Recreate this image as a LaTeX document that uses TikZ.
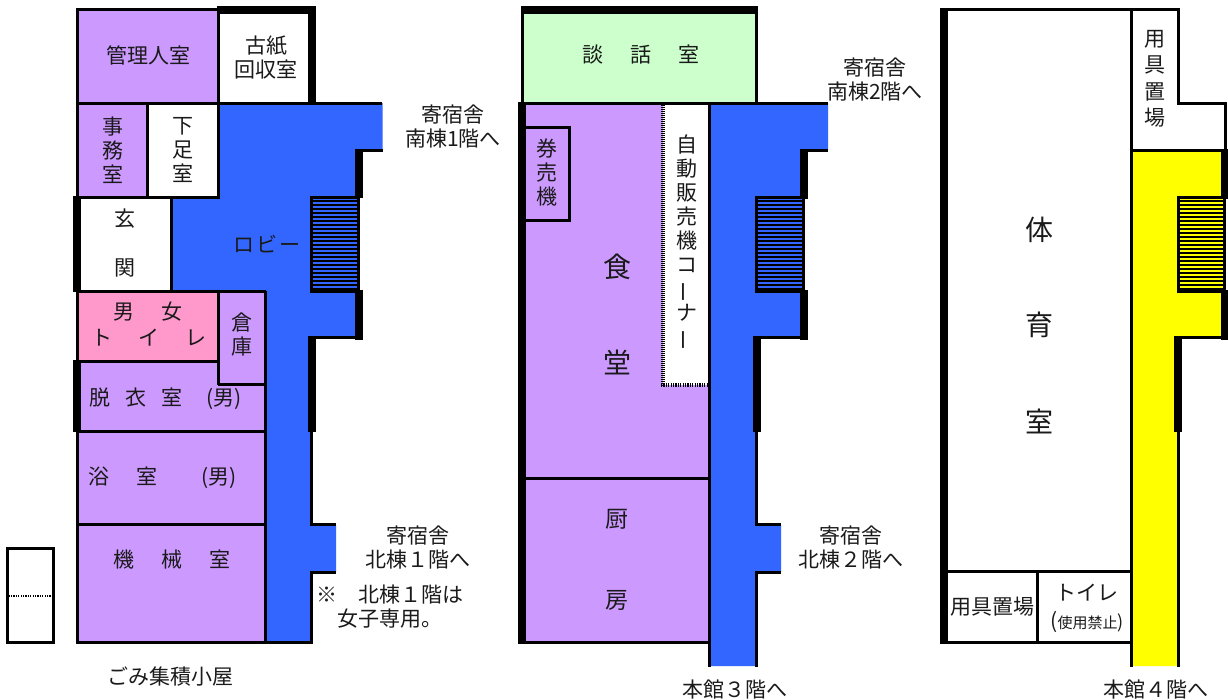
\documentclass[tikz,border=0pt]{standalone}
\usepackage{fontspec}
\newfontfamily\cjk{Noto Sans CJK JP}
\definecolor{lilac}{HTML}{CC99FF}
\definecolor{rosy}{HTML}{FF99CC}
\definecolor{mint}{HTML}{CCFFCC}
\definecolor{corr}{HTML}{3366FF}
\definecolor{yel}{HTML}{FFFF00}
\definecolor{ink}{HTML}{1A1A1A}
\newcommand{\gp}[1]{\hspace*{#1pt}}
\newcommand{\vbar}{\rotatebox[origin=c]{90}{ー}}
\tikzset{
  wallthin/.style={line width=3pt,line cap=butt,line join=miter,draw=black},
  wallthick/.style={line width=8pt,line cap=butt,line join=miter,draw=black},
  stairline/.style={line width=1.4pt,draw=black},
  lab/.style={inner sep=0pt,outer sep=0pt,align=center,text=ink,font=\cjk\fontsize{21}{24}\selectfont},
  big/.style={lab,font=\cjk\fontsize{28}{32}\selectfont},
  mid/.style={lab,font=\cjk\fontsize{23}{26}\selectfont},
  tall/.style={lab,font=\cjk\fontsize{21}{26.5}\selectfont}
}
\begin{document}
\begin{tikzpicture}[x=1pt,y=-1pt]
\useasboundingbox (0,0) rectangle (1228,699);
% ---------- building 1 fills
\fill[lilac] (77,9) rectangle (218,103);
\fill[lilac] (77,103) rectangle (147,197);
\fill[rosy] (77,291) rectangle (218,361);
\fill[lilac] (218,291) rectangle (265,384);
\fill[lilac] (77,361) rectangle (265,642);
\fill[corr] (218,103) -- (382.5,103) -- (382.5,150) -- (359,150) -- (359,337) -- (312,337) -- (312,525) -- (336,525) -- (336,572) -- (312,572) -- (312,642) -- (265,642) -- (265,291) -- (172,291) -- (172,197) -- (218,197) -- cycle;
% ---------- building 2 fills
\fill[mint] (522,10) rectangle (756,103);
\fill[lilac] (526,103) rectangle (709,642);
\fill[white] (663,104) rectangle (709,385);
\fill[corr] (709,103) -- (828,103) -- (828,150) -- (804,150) -- (804,337) -- (757,337) -- (757,525) -- (781,525) -- (781,572) -- (757,572) -- (757,666) -- (709,666) -- cycle;
% ---------- building 3 fills
\fill[yel] (1132,150) -- (1224,150) -- (1224,337) -- (1178,337) -- (1178,666) -- (1132,666) -- cycle;
% ---------- stairs
\foreach \sx/\sc in {311.5/corr,756.5/corr,1178/yel}{
  \fill[\sc] (\sx,197) rectangle +(47,95);
  \foreach \sy in {201,205,...,289}{
    \draw[stairline] (\sx,\sy) -- +(47,0);
  }
  \draw[wallthin] (\sx,197.5) rectangle +(46.5,94);
}
% ---------- building 1 walls
\draw[wallthin] (76,9.5) -- (218,9.5);
\draw[wallthick] (216.5,10) -- (316,10);
\draw[wallthick] (312,6) -- (312,103);
\draw[wallthin] (76,103.5) -- (382,103.5);
\draw[wallthin] (77.3,8) -- (77.3,644);
\draw[wallthin] (218.5,9) -- (218.5,199);
\draw[wallthin] (147,103) -- (147,198);
\draw[wallthin] (73,197.5) -- (220,197.5);
\draw[wallthick] (77,196) -- (77,292);
\draw[wallthick] (77,360) -- (77,432);
\draw[wallthin] (171.5,197) -- (171.5,292);
\draw[wallthin] (76,291.5) -- (266,291.5);
\draw[wallthin] (218.5,291) -- (218.5,385);
\draw[wallthin] (218,384.3) -- (266,384.3);
\draw[wallthin] (76,361.3) -- (218,361.3);
\draw[wallthin] (76,431) -- (266,431);
\draw[wallthin] (76,524.7) -- (266,524.7);
\draw[wallthin] (265.5,291) -- (265.5,644);
\draw[wallthin] (76,642.5) -- (313,642.5);
\draw[wallthin] (359,150.5) -- (382.5,150.5);
\draw[wallthick] (359,149) -- (359,198);
\draw[wallthick] (359,290) -- (359,340);
\draw[wallthin] (308,337.5) -- (359,337.5);
\draw[wallthick] (312,336) -- (312,432);
\draw[wallthin] (311.5,432) -- (311.5,526);
\draw[wallthin] (310,524.7) -- (336,524.7);
\draw[wallthin] (310,572.5) -- (336,572.5);
\draw[wallthin] (311.5,571) -- (311.5,644);
% garbage hut
\draw[wallthin] (7,548.5) rectangle (53.5,642);
\draw[line width=2pt,dash pattern=on 1.2pt off 1.2pt] (8.5,595.7) -- (52,595.7);
% ---------- building 2 walls
\draw[wallthick] (521,10) -- (758,10);
\draw[wallthin] (522.5,8) -- (522.5,103);
\draw[wallthin] (756.5,8) -- (756.5,103);
\draw[wallthin] (518,103.5) -- (828,103.5);
\draw[wallthick] (522,102) -- (522,644);
\draw[wallthin] (525,127) -- (569.3,127) -- (569.3,220) -- (525,220);
\draw[line width=4pt,dash pattern=on 1pt off 1pt] (663,105) -- (663,387);
\draw[line width=3.5pt,dash pattern=on 1.2pt off 1.2pt] (661,385) -- (708,385);
\draw[wallthin] (709.5,103) -- (709.5,666.7);
\draw[wallthin] (526,478.5) -- (709,478.5);
\draw[wallthin] (518,642.5) -- (710,642.5);
\draw[wallthin] (804,150.5) -- (828,150.5);
\draw[wallthick] (804,149) -- (804,199);
\draw[wallthick] (804,290) -- (804,340);
\draw[wallthin] (753,337.5) -- (804,337.5);
\draw[wallthick] (757,336) -- (757,432);
\draw[wallthin] (756.5,432) -- (756.5,526);
\draw[wallthin] (755,524.7) -- (781,524.7);
\draw[wallthin] (755,572.5) -- (781,572.5);
\draw[wallthin] (756.5,571) -- (756.5,666.7);
% ---------- building 3 walls
\draw[wallthick] (944,8) -- (944,644);
\draw[wallthin] (940,9.5) -- (1180,9.5);
\draw[wallthin] (1131.7,8) -- (1131.7,666.7);
\draw[wallthin] (1178.5,8) -- (1178.5,103.5) -- (1225.5,103.5) -- (1225.5,150);
\draw[wallthin] (1131,150.5) -- (1227,150.5);
\draw[wallthick] (1224.5,149) -- (1224.5,199);
\draw[wallthick] (1224.5,290) -- (1224.5,340);
\draw[wallthin] (1175,337.5) -- (1224,337.5);
\draw[wallthick] (1178,336) -- (1178,432);
\draw[wallthin] (1178.5,432) -- (1178.5,666.7);
\draw[wallthin] (948,571.3) -- (1131,571.3);
\draw[wallthin] (1037.5,571) -- (1037.5,642);
\draw[wallthin] (940,642.5) -- (1132,642.5);
% ---------- labels building 1
\node[lab] (t01) at (148,55) {管理人室};
\node[lab] (t02) at (266,57) {古紙\\回収室};
\node[lab] (t03) at (113,150) {事\\務\\室};
\node[lab] (t04) at (183,150) {下\\足\\室};
\node[lab] (t05) at (125,219) {玄};
\node[lab] (t06) at (125,268) {関};
\node[lab] (t07) at (267,244) {ロ\gp{2}ビ\gp{2}ー};
\node[lab] (t08) at (148,312) {男\gp{27}女};
\node[lab] (t09) at (149,338) {ト\gp{26}イ\gp{26}レ};
\node[lab] (t10) at (242,335) {倉\\庫};
\node[lab] (t11) at (166,399) {脱\gp{15}衣\gp{15}室\gp{24}(男)};
\node[lab] (t12) at (163,478) {浴\gp{27}室\gp{44}(男)};
\node[lab] (t13) at (172,560) {機\gp{27}械\gp{27}室};
\node[lab] (t14) at (453,127) {寄宿舎\\南棟1階へ};
\node[lab] (t15) at (418,547.5) {寄宿舎\\北棟１階へ};
\node[lab] (t16) at (327,595) {※};
\node[lab] (t17) at (411,595) {北棟１階は};
\node[lab] (t18) at (390,618.5) {女子専用。};
\node[lab] (t19) at (170,677) {ごみ集積小屋};
% ---------- labels building 2
\node[lab] (t20) at (641,55) {談\gp{27}話\gp{27}室};
\node[lab] (t21) at (875,80) {寄宿舎\\南棟2階へ};
\node[lab] (t22) at (547,173) {券\\売\\機};
\node[lab] (t23) at (687,243) {自\\動\\販\\売\\機\\コ\\\vbar\\ナ\\\vbar};
\node[big] (t24) at (617,267) {食};
\node[big] (t25) at (617,362) {堂};
\node[mid] (t26) at (617,519) {厨};
\node[mid] (t27) at (617,600) {房};
\node[lab] (t28) at (851,547.5) {寄宿舎\\北棟２階へ};
\node[lab] (t29) at (735,689) {本館３階へ};
% ---------- labels building 3
\node[tall] (t30) at (1155,79) {用\\具\\置\\場};
\node[big] (t31) at (1039,230) {体};
\node[big] (t32) at (1039,325) {育};
\node[big] (t33) at (1039,421) {室};
\node[lab] (t34) at (992,607) {用具置場};
\node[lab] (t35) at (1087,593) {トイレ};
\node[lab] (t36) at (1087,622) {(\fontsize{15}{17}\selectfont 使用禁止\fontsize{18}{20}\selectfont )};
\node[lab] (t37) at (1156,689) {本館４階へ};
\end{tikzpicture}
\end{document}
